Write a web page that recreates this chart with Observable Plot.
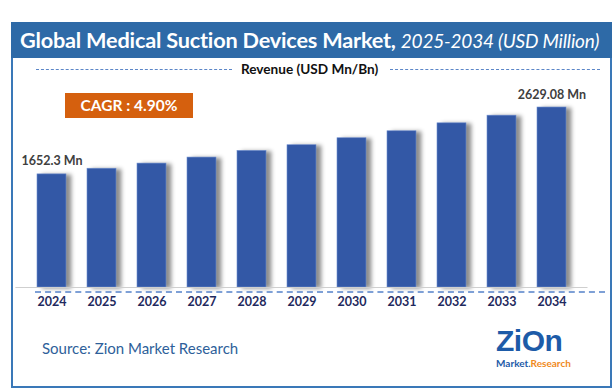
<!DOCTYPE html>
<html>
<head>
<meta charset="utf-8">
<script src="https://cdn.jsdelivr.net/npm/d3@7"></script>
<script src="https://cdn.jsdelivr.net/npm/@observablehq/plot@0.6"></script>
<style>
  html, body { margin: 0; padding: 0; background: #fff; }
  #wrap { position: relative; width: 615px; height: 392px; overflow: hidden; font-family: Lato, "Open Sans", sans-serif; }
  #frame { position: absolute; left: 11px; top: 22px; width: 597px; height: 362px; border: 2px solid #3a78b8; box-sizing: content-box; }
  #titlebar { position: absolute; left: 11px; top: 22px; width: 601px; height: 36px; background: #2e6aa7; color: #fff; }
  #titlebar span.main { position: absolute; left: 9px; top: 5px; font-size: 21.7px; font-weight: bold; white-space: nowrap; letter-spacing: -0.2px; }
  #titlebar span.sub { font-style: italic; font-weight: normal; font-size: 19px; }
  #chart { position: absolute; left: 0; top: 0; }
  .dash { position: absolute; height: 0; border-top: 1px dashed #5b86c8; }
  #legend { position: absolute; left: 241px; top: 61px; font-size: 13.6px; font-weight: bold; color: #111; white-space: nowrap; }
  #cagr { position: absolute; left: 65px; top: 93px; width: 128px; height: 25px; background: #d5600e; color: #fff; font-weight: bold; font-size: 15.5px; text-align: center; line-height: 25px; }
  #source { position: absolute; left: 42px; top: 339px; font-size: 15px; color: #2e5f9a; }
  #logo { position: absolute; left: 496px; top: 325px; width: 84px; }
  #logo .z { font-family: "Liberation Sans", Arial, sans-serif; font-weight: 900; font-size: 30px; color: #1d5ba8; letter-spacing: -0.5px; line-height: 32px; height: 32px; }
  #logo .m { font-size: 10px; font-weight: bold; color: #1d5ba8; line-height: 12px; white-space: nowrap; }
  #logo .m i { font-style: normal; color: #f08a1c; }
</style>
</head>
<body>
<div id="wrap">
  <div id="frame"></div>
  <div id="chart"></div>
  <div id="titlebar"><span class="main">Global Medical Suction Devices Market, <span class="sub">2025-2034 (USD Million)</span></span></div>
  <div class="dash" style="left:36px; top:69px; width:196px;"></div>
  <div id="legend">Revenue (USD Mn/Bn)</div>
  <div class="dash" style="left:390px; top:69px; width:210px;"></div>
  <div id="cagr">CAGR : 4.90%</div>
  <div class="dash" style="left:35px; top:291px; width:570px; border-top-width:2px; border-color:#7ea0d6;"></div>
  <div id="source">Source: Zion Market Research</div>
  <div id="logo"><div class="z">ZiOn</div><div class="m">Market.<i>Research</i></div></div>
</div>
<script>
const years = ["2024","2025","2026","2027","2028","2029","2030","2031","2032","2033","2034"];
const revenue = [1652.3, 1735, 1810, 1898, 1995, 2078, 2180, 2282, 2398, 2510, 2629.08];
const valueLabels = ["1652.3 Mn","","","","","","","","","","2629.08 Mn"];

const data = years.map((y, i) => ({year: y, value: revenue[i], label: valueLabels[i]}));

const chart = Plot.plot({
  width: 615,
  height: 392,
  marginTop: 20,
  marginBottom: 105,
  marginLeft: 15.4,
  marginRight: 27.5,
  x: {domain: years, padding: 0.42, label: null},
  y: {domain: [0, 3900], axis: null},
  style: {background: "transparent", fontFamily: "Lato, 'Open Sans', sans-serif"},
  marks: [
    Plot.barY(data, {x: "year", y: "value", fill: "#3358a6", stroke: "#6f8fd0", strokeWidth: 0.6}),
    Plot.ruleY([0], {stroke: "#cfcfcf", strokeWidth: 1.2}),
    Plot.text(data.filter(d => d.label), {x: "year", y: "value", text: "label", dy: -13, fontSize: 12.5, fontWeight: "bold", fill: "#404040"}),
    Plot.axisX({tickSize: 0, tickPadding: 10, fontSize: 12.5, fontWeight: "bold", fill: "#1f2a5e", label: null})
  ]
});
document.getElementById("chart").appendChild(chart);
d3.select(chart).selectAll('g[aria-label="bar"] rect').style("filter", "drop-shadow(5px 1px 2px rgba(0,0,0,0.45))");
</script>
</body>
</html>
